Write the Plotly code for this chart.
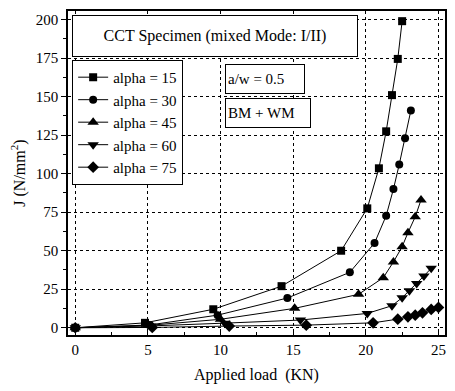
import plotly.graph_objects as go

names = ["alpha = 15", "alpha = 30", "alpha = 45", "alpha = 60", "alpha = 75"]
symbols = ["square", "circle", "triangle-up", "triangle-down", "diamond"]
msizes = [8, 8, 10, 10, 9]

x15 = [0, 4.8, 9.5, 14.2, 18.3, 20.1, 20.9, 21.4, 21.8, 22.2, 22.5]
y15 = [0, 3.2, 12, 27, 50, 77.5, 103.5, 127.5, 151, 174.5, 199]

x30 = [0, 5.1, 9.8, 14.6, 18.9, 20.6, 21.4, 21.9, 22.3, 22.7, 23.1]
y30 = [0, 1.8, 8.2, 19.3, 36, 55, 72.7, 90, 106, 123, 141]

x45 = [0, 5.0, 10.0, 15.1, 19.5, 21.2, 21.9, 22.5, 22.9, 23.4, 23.8]
y45 = [0, 1.5, 5.5, 12.6, 21.7, 32.5, 42.7, 52.6, 61.7, 72, 83]

x60 = [0, 5.2, 10.3, 15.5, 20.1, 21.8, 22.5, 23.0, 23.5, 24.0, 24.5]
y60 = [0, 1.2, 3.0, 5.0, 9.3, 14.3, 19.5, 24, 28.8, 33.6, 38.6]

x75 = [0, 5.3, 10.6, 15.9, 20.5, 22.2, 22.9, 23.4, 23.9, 24.5, 25.0]
y75 = [0, 0.2, 1.1, 1.7, 3.2, 5.6, 7.1, 8.2, 9.7, 11.9, 13.2]

xs = [x15, x30, x45, x60, x75]
ys = [y15, y30, y45, y60, y75]

x_ticks = [0, 5, 10, 15, 20, 25]
y_ticks = [0, 25, 50, 75, 100, 125, 150, 175, 200]

FONT = "Liberation Serif, Times New Roman, serif"

fig = go.Figure()
for n, s, ms, xv, yv in zip(names, symbols, msizes, xs, ys):
    fig.add_trace(go.Scatter(
        x=xv, y=yv, name=n, mode="lines+markers",
        line=dict(color="black", width=1),
        marker=dict(symbol=s, size=ms, color="black"),
    ))

axis_common = dict(
    showline=True, linecolor="black", linewidth=1.5, mirror=True,
    showgrid=True, gridcolor="black", griddash="dot", gridwidth=1,
    zeroline=False, tickfont=dict(family=FONT, size=15, color="black"),
    tickcolor="black", ticklen=5,
)

fig.update_xaxes(
    range=[-0.5, 25.45], tickvals=x_ticks, ticks="inside",
    minor=dict(dtick=2.5, ticks="inside", ticklen=3, tickcolor="black", showgrid=False),
    title=dict(text="Applied load  (KN)", font=dict(family=FONT, size=16, color="black"), standoff=12),
    **axis_common,
)
fig.update_yaxes(
    range=[-4.7, 205.6], tickvals=y_ticks, ticks="outside",
    minor=dict(dtick=12.5, ticks="outside", ticklen=3, tickcolor="black", showgrid=False),
    title=dict(text="J (N/mm<sup>2</sup>)", font=dict(family=FONT, size=16, color="black"), standoff=6),
    **axis_common,
)

fig.add_annotation(
    x=0.389, y=0.922, xref="paper", yref="paper", showarrow=False,
    text="CCT Specimen (mixed Mode: I/II)", font=dict(family=FONT, size=16, color="black"),
    bordercolor="black", borderwidth=1, borderpad=3, bgcolor="white",
    width=278, height=34, xanchor="center", yanchor="middle",
)
fig.add_annotation(
    x=0.522, y=0.791, xref="paper", yref="paper", showarrow=False,
    text="a/w = 0.5", font=dict(family=FONT, size=15, color="black"),
    bordercolor="black", borderwidth=1, borderpad=2, bgcolor="white",
    width=74, height=24, align="left", xanchor="center", yanchor="middle",
)
fig.add_annotation(
    x=0.531, y=0.685, xref="paper", yref="paper", showarrow=False,
    text="BM + WM", font=dict(family=FONT, size=15, color="black"),
    bordercolor="black", borderwidth=1, borderpad=2, bgcolor="white",
    width=80, height=24, align="left", xanchor="center", yanchor="middle",
)

fig.update_layout(
    width=455, height=391,
    margin=dict(l=68, r=8, t=11, b=56),
    paper_bgcolor="white", plot_bgcolor="white",
    font=dict(family=FONT, color="black"),
    legend=dict(
        x=0.011, y=0.849, xanchor="left", yanchor="top",
        bordercolor="black", borderwidth=1, bgcolor="white",
        font=dict(family=FONT, size=15, color="black"),
        tracegroupgap=0, itemwidth=30,
    ),
)

fig.write_html("out.html")
